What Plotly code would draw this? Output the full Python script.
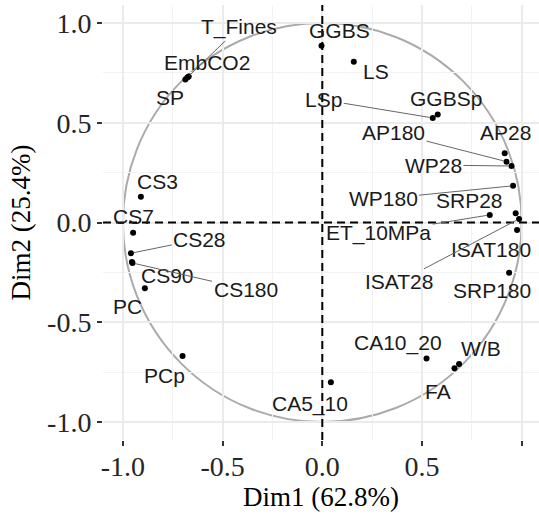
import plotly.graph_objects as go

# Variable loadings on the first two principal dimensions
variables = ["T_Fines", "EmbCO2", "SP", "GGBS", "LS", "LSp", "GGBSp",
             "AP180", "AP28", "WP28", "WP180", "SRP28", "ET_10MPa",
             "ISAT180", "ISAT28", "SRP180", "CS3", "CS7", "CS28", "CS90",
             "CS180", "PC", "PCp", "CA10_20", "W/B", "FA", "CA5_10"]
dim1 = [-0.677, -0.670, -0.687, -0.004, 0.158, 0.554, 0.579,
        0.924, 0.915, 0.949, 0.957, 0.970, 0.840,
        0.977, 0.987, 0.937, -0.910, -0.949, -0.960, -0.955,
        -0.952, -0.890, -0.701, 0.523, 0.686, 0.663, 0.043]
dim2 = [0.727, 0.732, 0.717, 0.886, 0.806, 0.524, 0.541,
        0.305, 0.347, 0.283, 0.184, 0.046, 0.038,
        -0.038, 0.018, -0.252, 0.129, -0.051, -0.154, -0.198,
        -0.203, -0.330, -0.669, -0.681, -0.709, -0.731, -0.801]

tick_vals = [-1.0, -0.5, 0.0, 0.5, 1.0]
tick_text = ["-1.0", "-0.5", "0.0", "0.5", "1.0"]
x_title = "Dim1 (62.8%)"
y_title = "Dim2 (25.4%)"

# Label placement: pixel offset of label centre from its point, and
# whether a leader segment connects them
label_offsets = {
    "T_Fines": (52, -50, True), "EmbCO2": (18, -14, False), "SP": (-15, 18, False),
    "GGBS": (18, -15, False), "LS": (22, 10, False), "LSp": (-109, -18, True),
    "GGBSp": (8, -16, False), "AP180": (-113, -29, True), "AP28": (1, -21, False),
    "WP28": (-78, -1, True), "WP180": (-130, 13, True), "SRP28": (-46, -13, False),
    "ET_10MPa": (-111, 18, True), "ISAT180": (-26, 19, False), "ISAT28": (-120, 63, True),
    "SRP180": (-17, 18, False), "CS3": (17, -15, False), "CS7": (0, -16, False),
    "CS28": (69, -14, True), "CS90": (36, 13, False), "CS180": (113, 26, True),
    "PC": (-17, 18, False), "PCp": (-18, 20, False), "CA10_20": (-29, -15, False),
    "W/B": (22, -15, False), "FA": (-16, 23, False), "CA5_10": (-21, 22, False),
}

fig = go.Figure()

fig.add_trace(go.Scatter(
    x=dim1, y=dim2, mode="markers",
    marker=dict(color="black", size=6),
    hoverinfo="text", text=variables, showlegend=False,
))

# Correlation circle and dashed zero lines
fig.add_shape(type="circle", xref="x", yref="y", x0=-1, y0=-1, x1=1, y1=1,
              line=dict(color="#ababab", width=2), layer="below")
fig.add_shape(type="line", xref="paper", yref="y", x0=0, x1=1, y0=0, y1=0,
              line=dict(color="black", width=2, dash="8px,5px"))
fig.add_shape(type="line", xref="x", yref="paper", x0=0, x1=0, y0=0, y1=1,
              line=dict(color="black", width=2, dash="8px,5px"))

label_font = dict(family="Liberation Sans, Arial, sans-serif", size=21, color="#1a1a1a")
for name, x, y in zip(variables, dim1, dim2):
    dx, dy, seg = label_offsets[name]
    if seg:
        fig.add_annotation(x=x, y=y, text=name, showarrow=True, ax=dx, ay=dy,
                           arrowhead=0, arrowwidth=1, arrowcolor="#666666",
                           standoff=3, font=label_font)
    else:
        fig.add_annotation(x=x, y=y, text=name, showarrow=False,
                           xshift=dx, yshift=-dy, font=label_font)

axis_common = dict(
    tickvals=tick_vals, ticktext=tick_text,
    tickfont=dict(family="Liberation Serif, Times New Roman, serif", size=28, color="#262626"),
    ticks="outside", ticklen=5, tickwidth=2, tickcolor="#333333",
    showgrid=True, gridcolor="#ebebeb", gridwidth=1.5,
    minor=dict(dtick=0.25, showgrid=True, gridcolor="#f2f2f2", gridwidth=1, ticks=""),
    zeroline=False, showline=False,
    title_font=dict(family="Liberation Serif, Times New Roman, serif", size=27, color="black"),
)

fig.update_xaxes(range=[-1.1, 1.087], title_text=x_title, title_standoff=2,
                 ticklabelstandoff=-4, **axis_common)
fig.update_yaxes(range=[-1.09, 1.09], title_text=y_title, title_standoff=8,
                 **axis_common)

fig.update_layout(
    width=539, height=516,
    margin=dict(l=103, r=0, t=5, b=76),
    plot_bgcolor="white", paper_bgcolor="white",
)

fig.write_html("out.html")
